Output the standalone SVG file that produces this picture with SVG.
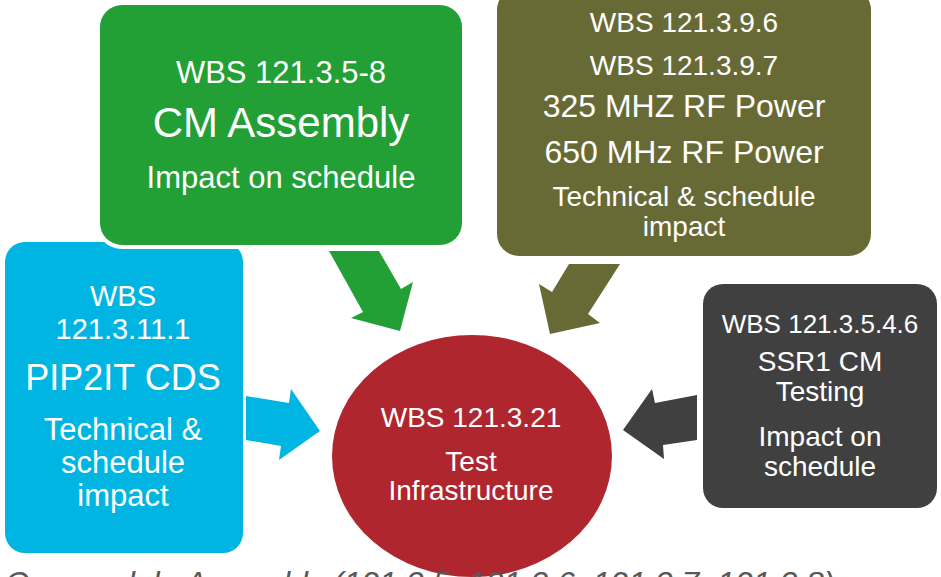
<svg xmlns="http://www.w3.org/2000/svg" width="941" height="577" viewBox="0 0 941 577">
  <style>
    text { font-family: "Liberation Sans", Arial, sans-serif; fill: #ffffff; text-anchor: middle; }
    .caption { fill: #595959; text-anchor: start; font-style: italic; font-size: 32px; }
  </style>
  <rect width="941" height="577" fill="#ffffff"/>

  <!-- Test infrastructure (centre) -->
  <g id="node-test-infrastructure">
    <ellipse cx="472" cy="456" rx="140" ry="121" fill="#b0262f"/>
    <text x="471" y="427" font-size="28">WBS 121.3.21</text>
    <text x="471" y="471" font-size="28">Test</text>
    <text x="471" y="500" font-size="28">Infrastructure</text>
  </g>

  <!-- PIP2IT CDS -->
  <g id="node-pip2it-cds">
    <rect x="5" y="242" width="238" height="311" rx="20" fill="#00b5e2"/>
    <text x="123" y="306" font-size="29">WBS</text>
    <text x="123" y="339" font-size="29">121.3.11.1</text>
    <text x="123" y="390" font-size="36">PIP2IT CDS</text>
    <text x="123" y="440" font-size="31">Technical &amp;</text>
    <text x="123" y="473" font-size="31">schedule</text>
    <text x="123" y="506" font-size="31">impact</text>
  </g>

  <!-- CM Assembly -->
  <g id="node-cm-assembly">
    <rect x="96" y="1" width="370" height="248" rx="26" fill="#ffffff"/>
    <rect x="100" y="5" width="362" height="240" rx="22" fill="#22a036"/>
    <text x="281" y="83" font-size="31">WBS 121.3.5-8</text>
    <text x="281" y="137" font-size="42">CM Assembly</text>
    <text x="281" y="188" font-size="31">Impact on schedule</text>
  </g>

  <!-- RF Power -->
  <g id="node-rf-power">
    <rect x="497" y="-12" width="374" height="268" rx="22" fill="#686a36"/>
    <text x="684" y="32" font-size="28">WBS 121.3.9.6</text>
    <text x="684" y="75" font-size="28">WBS 121.3.9.7</text>
    <text x="684" y="117" font-size="32">325 MHZ RF Power</text>
    <text x="684" y="163" font-size="32">650 MHz RF Power</text>
    <text x="684" y="206" font-size="28">Technical &amp; schedule</text>
    <text x="684" y="236" font-size="28">impact</text>
  </g>

  <!-- SSR1 CM Testing -->
  <g id="node-ssr1-testing">
    <rect x="703" y="284" width="234" height="224" rx="20" fill="#404040"/>
    <text x="820" y="333" font-size="26">WBS 121.3.5.4.6</text>
    <text x="820" y="371" font-size="28">SSR1 CM</text>
    <text x="820" y="401" font-size="28">Testing</text>
    <text x="820" y="446" font-size="28">Impact on</text>
    <text x="820" y="476" font-size="28">schedule</text>
  </g>

  <!-- Block arrows into the centre -->
  <g id="connectors">
    <polygon points="329,251 379,251 401,289 413,282 400,331 351,318 363,312" fill="#22a036"/>
    <polygon points="569,264 620,264 588,314 600,323 550,334 539,284 552,292" fill="#686a36"/>
    <polygon points="246,396 289,403 291,389 320,431 279,460 281,446 246,440" fill="#00b5e2"/>
    <polygon points="697,395 655,403 652,389 623,430 664,459 663,445 697,440" fill="#404040"/>
  </g>

  <text class="caption" x="5" y="594">Cryomodule Assembly (121.3.5, 121.3.6, 121.3.7, 121.3.8)</text>
</svg>
